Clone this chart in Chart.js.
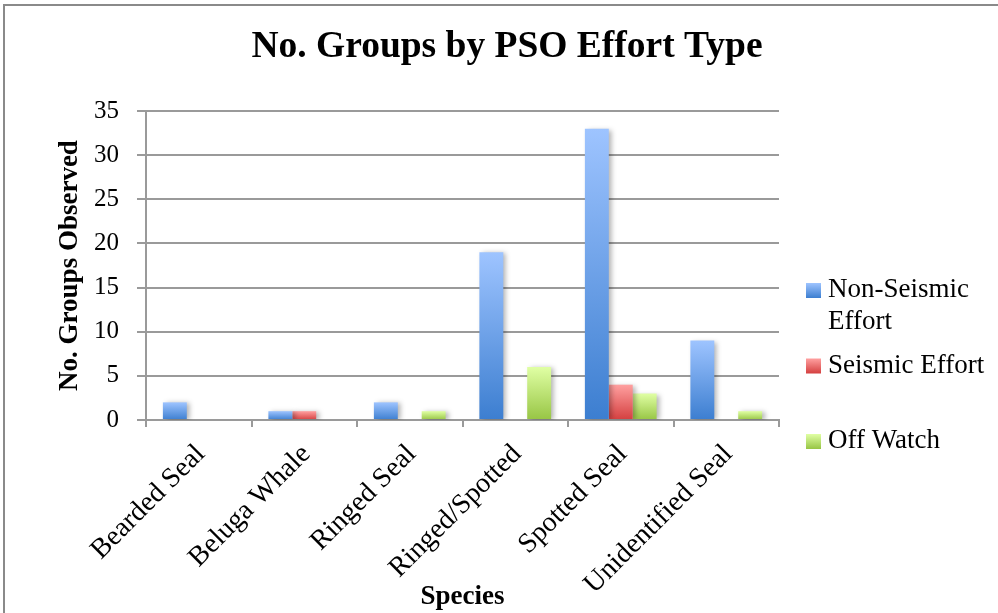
<!DOCTYPE html>
<html>
<head>
<meta charset="utf-8">
<script src="https://cdn.jsdelivr.net/npm/chart.js@4.4.0/dist/chart.umd.min.js"></script>
<style>
  html, body { margin: 0; padding: 0; background: #fff; }
  #wrap { width: 998px; height: 613px; position: relative; }
</style>
</head>
<body>
<div id="wrap"><canvas id="c" width="998" height="613"></canvas></div>
<script>
// Species observed and number of groups per PSO effort type
const categories = ['Bearded Seal', 'Beluga Whale', 'Ringed Seal', 'Ringed/Spotted', 'Spotted Seal', 'Unidentified Seal'];
const nonSeismic = [2, 1, 2, 19, 33, 9];
const seismic    = [0, 1, 0, 0, 4, 0];
const offWatch   = [0, 0, 1, 6, 3, 1];
const seriesNames = ['Non-Seismic Effort', 'Seismic Effort', 'Off Watch'];
const yMax = 35;
const yStep = 5;

const chartTitle = 'No. Groups by PSO Effort Type';
const xTitle = 'Species';
const yTitle = 'No. Groups Observed';

const SERIF = "'Liberation Serif', 'Times New Roman', serif";
const GRID = '#9a9a9a';

// light-to-dark vertical fills for each series
const palette = [
  { top: '#9ec4ff', bottom: '#3c7ed0' },
  { top: '#ffa0a0', bottom: '#d43f3f' },
  { top: '#e0ffa4', bottom: '#97c544' }
];

function barFill(i) {
  return function (ctx) {
    const chart = ctx.chart;
    if (!chart.chartArea || ctx.type !== 'data') return palette[i].bottom;
    const y = chart.scales.y;
    const top = y.getPixelForValue(ctx.raw);
    const base = y.getPixelForValue(0);
    if (!(base - top > 0)) return palette[i].bottom;
    const g = chart.ctx.createLinearGradient(0, top, 0, base);
    g.addColorStop(0, palette[i].top);
    g.addColorStop(1, palette[i].bottom);
    return g;
  };
}

// soft drop shadow behind the bars
const barShadow = {
  id: 'barShadow',
  beforeDatasetsDraw(chart) {
    const c = chart.ctx;
    c.save();
    c.shadowColor = 'rgba(0,0,0,0.30)';
    c.shadowBlur = 5;
    c.shadowOffsetX = 3;
    c.shadowOffsetY = 1;
  },
  afterDatasetsDraw(chart) {
    chart.ctx.restore();
  }
};

function wrapText(c, text, maxWidth) {
  const words = text.split(' ');
  const lines = [];
  let line = '';
  for (const w of words) {
    const test = line ? line + ' ' + w : w;
    if (line && c.measureText(test).width > maxWidth) {
      lines.push(line);
      line = w;
    } else {
      line = test;
    }
  }
  if (line) lines.push(line);
  return lines;
}

// frame, heading and side legend
const decor = {
  id: 'decor',
  beforeDraw(chart) {
    const c = chart.ctx;
    c.save();
    c.fillStyle = '#fff';
    c.fillRect(0, 0, chart.width, chart.height);
    c.strokeStyle = '#8a8a8a';
    c.lineWidth = 2;
    c.beginPath();
    c.moveTo(4, chart.height);
    c.lineTo(4, 5);
    c.lineTo(chart.width, 5);
    c.stroke();
    c.restore();
  },
  afterDraw(chart) {
    const c = chart.ctx;
    c.save();
    c.fillStyle = '#000';
    c.textAlign = 'center';
    c.textBaseline = 'middle';
    c.font = 'bold 37.5px ' + SERIF;
    c.fillText(chartTitle, 507, 47);

    c.font = '27px ' + SERIF;
    c.textAlign = 'left';
    chart.data.datasets.forEach((ds, i) => {
      const rowY = 290 + i * 75.5;
      const g = c.createLinearGradient(0, rowY - 7, 0, rowY + 8);
      g.addColorStop(0, palette[i].top);
      g.addColorStop(1, palette[i].bottom);
      c.fillStyle = g;
      c.fillRect(806, rowY - 7, 15, 15);
      c.fillStyle = '#000';
      const lines = wrapText(c, ds.label, 165);
      lines.forEach((ln, k) => c.fillText(ln, 828, rowY + k * 32));
    });
    c.restore();
  }
};

const seriesValues = [nonSeismic, seismic, offWatch];

new Chart(document.getElementById('c'), {
  type: 'bar',
  data: {
    labels: categories,
    datasets: seriesValues.map((vals, i) => ({
      label: seriesNames[i],
      data: vals,
      backgroundColor: barFill(i),
      borderWidth: 0,
      barPercentage: 1,
      categoryPercentage: 0.68
    }))
  },
  options: {
    responsive: false,
    animation: false,
    devicePixelRatio: 1,
    layout: { padding: { top: 111, right: 219, bottom: 0, left: 0 } },
    plugins: {
      legend: { display: false },
      tooltip: { enabled: false },
      title: { display: false }
    },
    scales: {
      x: {
        ticks: {
          color: '#000',
          font: { family: SERIF, size: 28 },
          minRotation: 45,
          maxRotation: 45,
          autoSkip: false,
          padding: 11,
          labelOffset: 2
        },
        grid: { drawOnChartArea: false, color: GRID, lineWidth: 2, tickLength: 7, offset: true },
        border: { color: GRID, width: 2 },
        title: {
          display: true,
          text: xTitle,
          color: '#000',
          font: { family: SERIF, size: 27, weight: 'bold' },
          padding: { top: 0, bottom: 0 }
        },
        afterFit(s) { s.height = 193; }
      },
      y: {
        min: 0,
        max: yMax,
        ticks: {
          stepSize: yStep,
          color: '#000',
          font: { family: SERIF, size: 25 },
          padding: 18
        },
        grid: { color: GRID, lineWidth: 2, tickLength: 9 },
        border: { color: GRID, width: 2 },
        title: {
          display: true,
          text: yTitle,
          color: '#000',
          font: { family: SERIF, size: 27, weight: 'bold' },
          padding: { top: 54, bottom: 0 }
        },
        afterFit(s) { s.width = 146; }
      }
    }
  },
  plugins: [decor, barShadow]
});
</script>
</body>
</html>
